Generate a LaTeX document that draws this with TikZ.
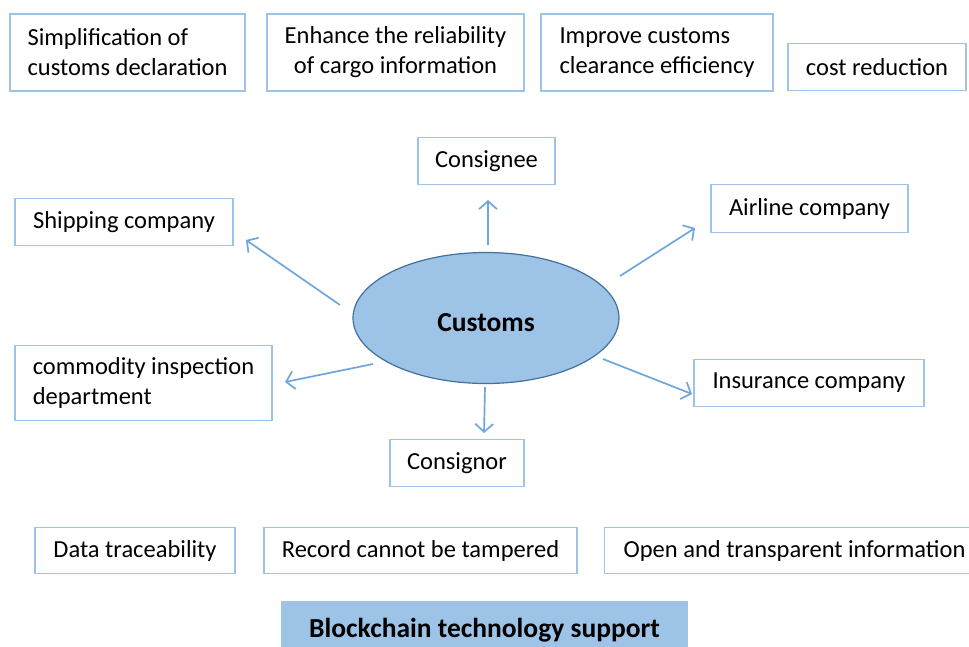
\documentclass[tikz,border=0pt]{standalone}
\usepackage{fontspec}
\setmainfont{Carlito}
\usetikzlibrary{shapes.geometric,arrows.meta}
\definecolor{boxline}{HTML}{9DC3E6}
\definecolor{ellfill}{HTML}{9DC3E6}
\definecolor{ellline}{HTML}{41719C}
\definecolor{arrcol}{HTML}{6FA6DC}
\begin{document}
\begin{tikzpicture}[x=1pt,y=-1pt,
  box/.style={draw=boxline,line width=1.2pt,fill=white,align=left,inner sep=0pt,
    font=\fontsize{24.5}{30}\selectfont,text=black},
  cbox/.style={box,align=center},
  hub/.style={ellipse,draw=ellline,fill=ellfill,line width=1.2pt,inner sep=0pt,
    font=\fontsize{27.5}{30}\selectfont\bfseries,text height=27pt,text depth=0pt},
  band/.style={fill=ellfill,inner sep=0pt,font=\fontsize{27.5}{30}\selectfont\bfseries,
    text height=25pt,text depth=6pt},
  link/.style={draw=arrcol,line width=1.7pt,-{Straight Barb[length=8pt,width=18pt,line width=1.7pt]}}]
\useasboundingbox (0,0) rectangle (969,646);
\fill[white] (0,0) rectangle (969,646);
% top row
\node[box,minimum width=235,minimum height=77] (t1) at (127.5,52.5) {Simplification of\\customs declaration};
\node[cbox,minimum width=257,minimum height=77] (t2) at (395.5,52.5) {Enhance the reliability\\of cargo information};
\node[box,minimum width=232,minimum height=77] (t3) at (657,52.5) {Improve customs\\clearance efficiency};
\node[box,minimum width=178,minimum height=47] (t4) at (877,67) {cost reduction};
% middle
\node[hub,minimum width=266,minimum height=131] (cu) at (486,318) {Customs};
\node[box,minimum width=137,minimum height=47] (ce) at (486.5,161) {Consignee};
\node[box,minimum width=218,minimum height=47] (sh) at (124,222) {Shipping company};
\node[box,minimum width=197,minimum height=48] (ai) at (809.5,208.5) {Airline company};
\node[box,minimum width=257,minimum height=75] (co) at (143.5,383) {commodity inspection\\department};
\node[box,minimum width=230,minimum height=47] (in) at (809,383) {Insurance company};
\node[box,minimum width=134,minimum height=47] (cn) at (457,463) {Consignor};
% bottom
\node[box,minimum width=200,minimum height=46] (b1) at (135,550.5) {Data traceability};
\node[box,minimum width=313,minimum height=46] (b2) at (420.5,550.5) {Record cannot be tampered};
\node[box,minimum width=378,minimum height=46,anchor=west] (b3) at (604,550.5) {\hspace{19pt}Open and transparent information\hspace{20pt}};
\node[band,minimum width=407,minimum height=54] (bc) at (484.5,628) {Blockchain technology support};
% arrow ends
\coordinate (ceS) at (488,245); \coordinate (ceT) at (488,200);
\coordinate (shS) at (340,305); \coordinate (shT) at (246,240);
\coordinate (aiS) at (620,276); \coordinate (aiT) at (695,228);
\coordinate (coS) at (373,364); \coordinate (coT) at (285,382);
\coordinate (inS) at (603,359); \coordinate (inT) at (692,394);
\coordinate (cnS) at (485,387); \coordinate (cnT) at (484,433);
\draw[link] (ceS) -- (ceT);
\draw[link] (shS) -- (shT);
\draw[link] (aiS) -- (aiT);
\draw[link] (coS) -- (coT);
\draw[link] (inS) -- (inT);
\draw[link] (cnS) -- (cnT);
\end{tikzpicture}
\end{document}
